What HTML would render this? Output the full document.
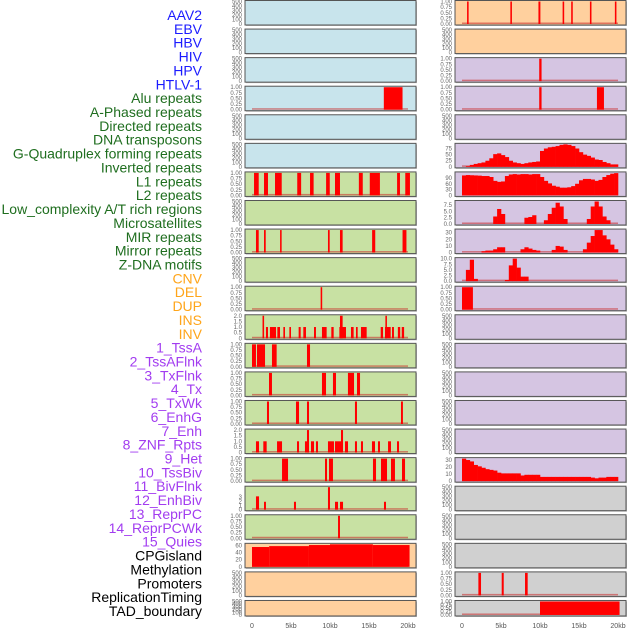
<!DOCTYPE html>
<html><head><meta charset="utf-8">
<style>
html,body{margin:0;padding:0;background:#fff;}
svg{display:block;font-family:"Liberation Sans",sans-serif;}
</style></head>
<body>
<svg id="chart" width="630" height="630" viewBox="0 0 630 630"></svg>
<script>
// ---------- data ----------
const trackLabels=["AAV2","EBV","HBV","HIV","HPV","HTLV-1","Alu repeats","A-Phased repeats","Directed repeats","DNA transposons","G-Quadruplex forming repeats","Inverted repeats","L1 repeats","L2 repeats","Low_complexity A/T rich regions","Microsatellites","MIR repeats","Mirror repeats","Z-DNA motifs","CNV","DEL","DUP","INS","INV","1_TssA","2_TssAFlnk","3_TxFlnk","4_Tx","5_TxWk","6_EnhG","7_Enh","8_ZNF_Rpts","9_Het","10_TssBiv","11_BivFlnk","12_EnhBiv","13_ReprPC","14_ReprPCWk","15_Quies","CPGisland","Methylation","Promoters","ReplicationTiming","TAD_boundary"];
const labelGroups=[6,13,5,15,5];
const xTickValues=[0,5,10,15,20];
const xTickLabels=["0","5kb","10kb","15kb","20kb"];
const emptyTicks=[0,100,200,300,400,500];
const unitTicks=[0,0.25,0.5,0.75,1];
const unitTickLabels=["0.00","0.25","0.50","0.75","1.00"];
const twoTicks=[0,0.5,1,1.5,2];
const twoTickLabels=["0","0.5","1.0","1.5","2.0"];

const aav2Sites=[[0.65,0.85],[6.2,6.4],[9.8,10.05],[12.9,13.1],[14.0,14.2],[16.4,16.6],[19.6,19.8]];
const hivSites=[[9.9,10.2]];
const htlvLeft=[[16.9,19.3]];
const htlvRight=[[9.9,10.2],[17.3,18.2]];
const gquadProfile=[0,3,8,12,15,18,25,35,52,55,48,40,25,18,15,12,15,18,20,22,65,75,80,82,85,90,92,90,85,75,60,50,45,38,30,28,20,15,10,10];
const l1Left=[[0.26,0.86],[1.54,2.05],[2.95,3.81],[5.8,6.3],[7.44,7.9],[9.5,9.97],[10.64,11.28],[13.7,14.2],[15.1,16.4],[18.6,18.97],[19.65,20.25]];
const l1Profile=[103,105,104,103,102,100,100,95,75,70,72,100,108,110,108,110,110,108,110,110,95,75,62,50,45,40,40,42,48,60,78,85,85,82,75,80,95,105,112,115];
const l2Profile=[0,0,0,0,0,0,0,0,3,6,4,0,0,0,0,0,2.5,2.8,3.5,0,0,1.5,4,6.5,8.5,7,2,0,0,0,0,0,2,7,9,7,3,1.5,0,0];
const mirLeft=[[0.51,0.86],[1.54,1.76],[3.6,3.8],[9.74,9.96],[11.28,11.62],[15.4,15.8],[19.3,19.8]];
const mirProfile=[0,0,0,0,0,2,3,3,5,8,8,0,0,0,0,5,8,6,4,3,0,0,0,4,10,9,4,0,0,0,0,5,15,25,34,34,26,20,12,5];
const zdnaProfile=[0,5,9.5,1,0,0,0,0,0,0,0,0.5,7,10,6,2,2,0,0,0,0,0,0,0,0,0,0,0,0,0,0,0,0,0,0,0,0,0,0,0];
const delLeft=[[8.8,9.0]];
const delRight=[[0,1.4]];
const insLeft=[[1.35,1.55,2],[1.79,2.05,1],[2.3,3.08,1],[3.25,3.59,1],[4.02,4.23,1],[4.79,5.0,1],[5.98,6.24,1],[6.58,6.92,1],[7.95,8.2,1],[8.97,9.57,1],[10.17,10.47,1],[11.2,12.05,1],[11.28,11.62,2],[12.69,13.03,1],[13.33,13.55,1],[13.97,14.7,1],[16.5,16.8,1],[17.05,17.78,1],[17.1,17.3,2],[17.95,18.2,1],[18.7,19.0,1],[19.2,19.5,1]];
const tssaLeft=[[0.0,0.51],[0.64,1.67],[2.56,3.16],[7.05,7.44]];
const txflnkLeft=[[2.18,2.56],[8.97,9.49],[10.38,10.77],[12.3,13.08],[13.46,13.85]];
const txwkLeft=[[1.92,2.18],[5.64,6.03],[7.05,7.31],[13.2,13.46],[19.1,19.35]];
const znfLeft=[[0.51,0.9,1],[1.45,1.88,1],[3.21,3.85,1],[5.77,6.03,1],[6.79,7.31,1],[7.05,7.31,2],[7.56,7.95,1],[8.2,8.46,1],[9.74,10.51,1],[10.64,11.54,1],[11.41,11.67,2],[11.92,12.31,1],[13.2,13.46,1],[13.97,14.23,1],[15.38,15.77,1],[16.15,16.41,1],[17.44,17.82,1],[18.59,18.85,1]];
const tssbivLeft=[[3.85,4.62],[9.36,9.62],[9.87,10.38],[15.51,15.9],[16.54,17.31],[17.82,18.33],[19.23,19.62]];
const tssbivProfile=[32,30,28,23,21,19,17,16,15,12,11,11,11,11,11,8,9,9,9,9,6,6,6,6,6,6,6,6,6,6,6,6,6,5,4,5,5,6,6,6];
const bivflnkLeft=[[0.51,0.9,3.2],[1.54,1.79,1.9],[5.38,5.64,1.9],[9.74,10.0,5.4],[10.64,11.03,1.9],[11.28,11.67,1.9],[16.92,17.18,1.9]];
const reprpcLeft=[[11.03,11.28]];
const cpgLeft=[[0,2.2,55.5],[2.2,7.3,58],[7.3,10,61],[10,15.5,63],[15.5,20.2,61]];
const promoterRight=[[2.1,2.44],[5.09,5.35],[8.08,8.42]];
const tadRight=[[10.0,20.2]];

// ---------- layout / styles ----------
const BG={blue:"#c8e4ec",peach:"#ffd09e",lav:"#d5c5e2",green:"#c8e1a3",gray:"#d0d0d0"};
const LBL_COL=["#1b1bff","#1f6e1f","#ffa51a","#a23cf0","#000000"];
const E={ticks:emptyTicks,ymax:500};
const U={ticks:unitTicks,labels:unitTickLabels,ymax:1};
function P(bg,o){return Object.assign({bg:bg},o||E);}
const rows=[
 ["aav2",P("blue"),P("peach",Object.assign({bars:aav2Sites},U))],
 ["ebv",P("blue"),P("peach")],
 ["hbv-hiv",P("blue"),P("lav",Object.assign({bars:hivSites},U))],
 ["htlv",P("blue",Object.assign({bars:htlvLeft},U)),P("lav",Object.assign({bars:htlvRight},U))],
 ["aphased",P("blue"),P("lav")],
 ["gquad",P("blue"),P("lav",{hist:gquadProfile,ticks:[0,25,50,75],ymax:92})],
 ["l1",P("green",Object.assign({bars:l1Left},U)),P("lav",{hist:l1Profile,ticks:[0,30,60,90],ymax:116})],
 ["l2",P("green"),P("lav",{hist:l2Profile,ticks:[0,2.5,5,7.5],labels:["0.0","2.5","5.0","7.5"],ymax:9})],
 ["mir",P("green",Object.assign({bars:mirLeft},U)),P("lav",{hist:mirProfile,ticks:[0,10,20,30],ymax:34})],
 ["zdna",P("green"),P("lav",{hist:zdnaProfile,ticks:[0,2.5,5,7.5,10],labels:["0.0","2.5","5.0","7.5","10.0"],ymax:10})],
 ["del",P("green",Object.assign({bars:delLeft},U)),P("lav",Object.assign({bars:delRight},U))],
 ["ins",P("green",{bars:insLeft,ticks:twoTicks,labels:twoTickLabels,ymax:2}),P("lav")],
 ["tssa",P("green",Object.assign({bars:tssaLeft},U)),P("lav")],
 ["txflnk",P("green",Object.assign({bars:txflnkLeft},U)),P("lav")],
 ["txwk",P("green",Object.assign({bars:txwkLeft},U)),P("lav")],
 ["znf",P("green",{bars:znfLeft,ticks:twoTicks,labels:twoTickLabels,ymax:2}),P("lav")],
 ["tssbiv",P("green",Object.assign({bars:tssbivLeft},U)),P("lav",{hist:tssbivProfile,ticks:[0,10,20,30],ymax:32})],
 ["bivflnk",P("green",{bars:bivflnkLeft,ticks:[0,1,2,3],ymax:5.4}),P("gray")],
 ["reprpc",P("green",Object.assign({bars:reprpcLeft},U)),P("gray")],
 ["cpg",P("peach",{bars:cpgLeft,ticks:[0,20,40,60],ymax:63}),P("gray")],
 ["promoters",P("peach"),P("gray",Object.assign({bars:promoterRight},U))],
 ["tad",P("peach"),P("gray",Object.assign({bars:tadRight},U))]
];

const NS="http://www.w3.org/2000/svg";
const svg=document.getElementById("chart");
function mk(tag,attrs,parent){const e=document.createElementNS(NS,tag);for(const k in attrs)e.setAttribute(k,attrs[k]);(parent||svg).appendChild(e);return e;}
const PANEL_X=[245,455], KB0=[252,462], PXKB=7.8, PW=171;
function xScale(side,kb){return KB0[side]+kb*PXKB;}

// labels
let li=0;
labelGroups.forEach((n,g)=>{for(let k=0;k<n;k++){
  const t=mk("text",{x:202,y:15+li*13.86+5,"text-anchor":"end","font-size":"14",fill:LBL_COL[g]});
  t.textContent=trackLabels[li];
  
  
  li++;}});

rows.forEach((r,i)=>{
  const top=i*28.57+0.5, h=(i===21)?15.5:24.5;
  [r[1],r[2]].forEach((p,side)=>{
    const g=mk("g",{});
    
    
    const x0=PANEL_X[side];
    mk("rect",{x:x0+1,y:top+1,width:PW,height:h,fill:"#bbb"},g);
    mk("rect",{x:x0,y:top,width:PW,height:h,fill:BG[p.bg],stroke:"#555","stroke-width":1},g);
    const yS=v=>top+h-1-v/p.ymax*(h-2);
    // ticks
    p.ticks.forEach((tv,k)=>{
      const t=mk("text",{x:x0-3,y:yS(tv)+2,"text-anchor":"end","font-size":"6",fill:"#666"},g);
      t.textContent=p.labels?p.labels[k]:String(tv);
      
      
    });
    const hasData=p.bars||p.hist;
    if(hasData){
      const bl=mk("rect",{x:xScale(side,0),y:top+h-2.5,width:20*PXKB,height:1.5,fill:"rgba(200,40,40,0.55)"},g);
      
      
    }
    if(p.bars){
      p.bars.forEach(b=>{
        const v=b.length>2?b[2]:1;
        const x1=xScale(side,b[0]), x2=xScale(side,b[1]);
        const rr=mk("rect",{x:x1,y:yS(v),width:Math.max(1.3,x2-x1),height:yS(0)-yS(v),fill:"#ff0000"},g);
        
        
      });
    }
    if(p.hist){
      p.hist.forEach((v,k)=>{
        if(v<=0)return;
        const x1=xScale(side,k*0.5), x2=xScale(side,k*0.5+0.5);
        const rr=mk("rect",{x:x1,y:yS(v),width:x2-x1+0.3,height:yS(0)-yS(v),fill:"#ff0000"},g);
        
        
      });
    }
  });
});

// x axes
[0,1].forEach(side=>{
  xTickValues.forEach((v,k)=>{
    const t=mk("text",{x:xScale(side,v),y:628,"text-anchor":"middle","font-size":"7",fill:"#555"});
    t.textContent=xTickLabels[k];
    
    
  });
});
</script>
</body></html>
